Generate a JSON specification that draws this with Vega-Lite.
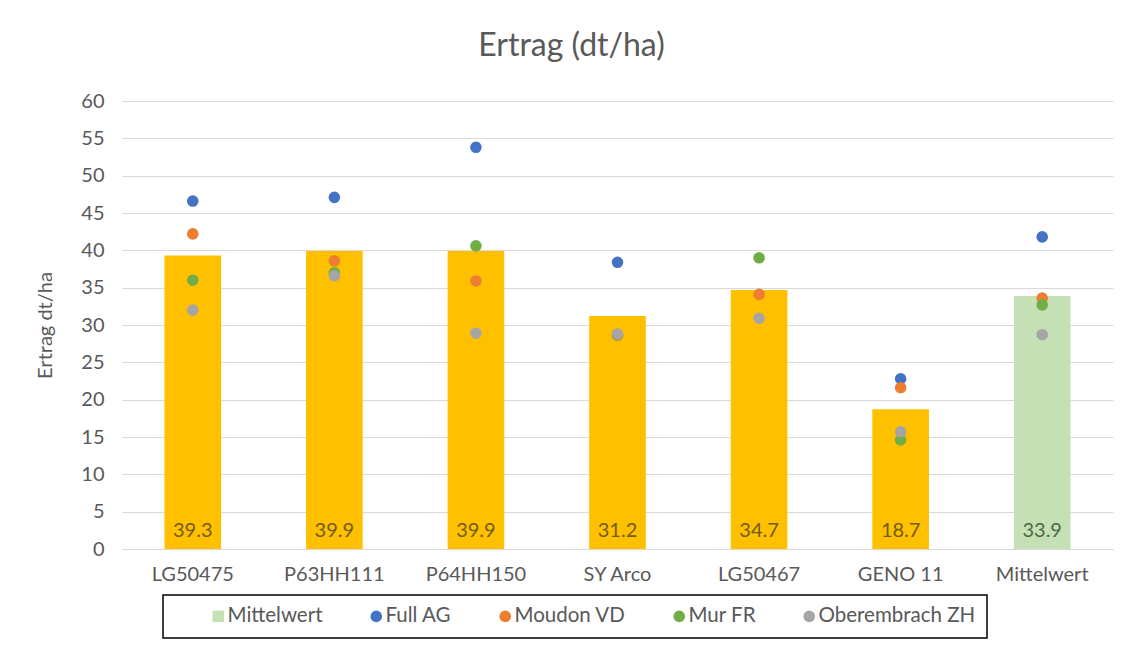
{
  "$schema": "https://vega.github.io/schema/vega-lite/v6.json",
  "autosize": "none",
  "width": 991,
  "height": 448,
  "padding": {"left": 122, "top": 101, "right": 21, "bottom": 113},
  "background": "white",
  "config": {
    "font": "Lato",
    "view": {"stroke": null},
    "axis": {"labelColor": "#595959", "titleColor": "#595959", "labelFont": "Lato", "titleFont": "Lato"},
    "axisY": {"labelOverlap": false},
    "legend": {"strokeWidth": 1.5}
  },
  "title": {
    "text": "Ertrag (dt/ha)",
    "fontSize": 32,
    "font": "Lato",
    "fontWeight": "normal",
    "color": "#595959",
    "anchor": "middle",
    "dx": -46,
    "offset": 28
  },
  "datasets": {
    "bars": [
      {"sorte": "LG50475", "ertrag": 39.3},
      {"sorte": "P63HH111", "ertrag": 39.9},
      {"sorte": "P64HH150", "ertrag": 39.9},
      {"sorte": "SY Arco", "ertrag": 31.2},
      {"sorte": "LG50467", "ertrag": 34.7},
      {"sorte": "GENO 11", "ertrag": 18.7},
      {"sorte": "Mittelwert", "ertrag": 33.9}
    ],
    "points": [
      {"sorte": "LG50475", "standort": "Full AG", "wert": 46.6},
      {"sorte": "P63HH111", "standort": "Full AG", "wert": 47.1},
      {"sorte": "P64HH150", "standort": "Full AG", "wert": 53.8},
      {"sorte": "SY Arco", "standort": "Full AG", "wert": 38.4},
      {"sorte": "GENO 11", "standort": "Full AG", "wert": 22.8},
      {"sorte": "Mittelwert", "standort": "Full AG", "wert": 41.8},
      {"sorte": "LG50475", "standort": "Moudon VD", "wert": 42.2},
      {"sorte": "P63HH111", "standort": "Moudon VD", "wert": 38.6},
      {"sorte": "P64HH150", "standort": "Moudon VD", "wert": 35.9},
      {"sorte": "SY Arco", "standort": "Moudon VD", "wert": 28.6},
      {"sorte": "LG50467", "standort": "Moudon VD", "wert": 34.1},
      {"sorte": "GENO 11", "standort": "Moudon VD", "wert": 21.6},
      {"sorte": "Mittelwert", "standort": "Moudon VD", "wert": 33.6},
      {"sorte": "LG50475", "standort": "Mur FR", "wert": 36.0},
      {"sorte": "P63HH111", "standort": "Mur FR", "wert": 37.0},
      {"sorte": "P64HH150", "standort": "Mur FR", "wert": 40.6},
      {"sorte": "SY Arco", "standort": "Mur FR", "wert": 28.7},
      {"sorte": "LG50467", "standort": "Mur FR", "wert": 39.0},
      {"sorte": "GENO 11", "standort": "Mur FR", "wert": 14.6},
      {"sorte": "Mittelwert", "standort": "Mur FR", "wert": 32.7},
      {"sorte": "LG50475", "standort": "Oberembrach ZH", "wert": 32.0},
      {"sorte": "P63HH111", "standort": "Oberembrach ZH", "wert": 36.6},
      {"sorte": "P64HH150", "standort": "Oberembrach ZH", "wert": 28.9},
      {"sorte": "SY Arco", "standort": "Oberembrach ZH", "wert": 28.8},
      {"sorte": "LG50467", "standort": "Oberembrach ZH", "wert": 30.9},
      {"sorte": "GENO 11", "standort": "Oberembrach ZH", "wert": 15.7},
      {"sorte": "Mittelwert", "standort": "Oberembrach ZH", "wert": 28.7}
    ]
  },
  "encoding": {
    "x": {
      "field": "sorte",
      "type": "nominal",
      "sort": ["LG50475", "P63HH111", "P64HH150", "SY Arco", "LG50467", "GENO 11", "Mittelwert"],
      "scale": {"paddingInner": 0.6, "paddingOuter": 0.3},
      "axis": {
        "title": null,
        "labelAngle": 0,
        "labelFontSize": 20,
        "labelPadding": 15,
        "ticks": false,
        "domainColor": "#D9D9D9",
        "domainWidth": 1
      }
    }
  },
  "layer": [
    {
      "data": {"name": "bars"},
      "mark": {"type": "bar"},
      "encoding": {
        "y": {
          "field": "ertrag",
          "type": "quantitative",
          "scale": {"domain": [0, 60], "nice": false},
          "axis": {
            "title": "Ertrag dt/ha",
            "titleFontSize": 20,
            "titleFontWeight": "normal",
            "titlePadding": 25,
            "labelFontSize": 20,
            "labelPadding": 18,
            "values": [0, 5, 10, 15, 20, 25, 30, 35, 40, 45, 50, 55, 60],
            "ticks": false,
            "domain": false,
            "gridColor": "#D9D9D9",
            "gridWidth": 1
          }
        },
        "color": {
          "condition": {"test": "datum.sorte === 'Mittelwert'", "value": "#C5E0B4"},
          "value": "#FFC000"
        }
      }
    },
    {
      "data": {"name": "bars"},
      "mark": {"type": "text", "fontSize": 20, "baseline": "middle", "dy": -18, "font": "Lato"},
      "encoding": {
        "y": {
          "datum": 0,
          "type": "quantitative",
          "axis": {
            "title": "Ertrag dt/ha",
            "titleFontSize": 20,
            "titleFontWeight": "normal",
            "titlePadding": 25,
            "labelFontSize": 20,
            "labelPadding": 18,
            "values": [0, 5, 10, 15, 20, 25, 30, 35, 40, 45, 50, 55, 60],
            "ticks": false,
            "domain": false,
            "gridColor": "#D9D9D9",
            "gridWidth": 1
          }
        },
        "text": {"field": "ertrag", "type": "quantitative", "format": ".1f"},
        "color": {
          "condition": {"test": "datum.sorte === 'Mittelwert'", "value": "#4D6B45"},
          "value": "#735C14"
        }
      }
    },
    {
      "data": {"name": "points"},
      "mark": {"type": "point", "filled": true, "opacity": 1, "size": 135},
      "encoding": {
        "y": {
          "field": "wert",
          "type": "quantitative",
          "axis": {
            "title": "Ertrag dt/ha",
            "titleFontSize": 20,
            "titleFontWeight": "normal",
            "titlePadding": 25,
            "labelFontSize": 20,
            "labelPadding": 18,
            "values": [0, 5, 10, 15, 20, 25, 30, 35, 40, 45, 50, 55, 60],
            "ticks": false,
            "domain": false,
            "gridColor": "#D9D9D9",
            "gridWidth": 1
          }
        },
        "color": {
          "field": "standort",
          "type": "nominal",
          "scale": {
            "domain": ["Mittelwert", "Full AG", "Moudon VD", "Mur FR", "Oberembrach ZH"],
            "range": ["#C5E0B4", "#4472C4", "#ED7D31", "#70AD47", "#A5A5A5"]
          },
          "legend": {
            "title": " ",
            "titleOrient": "left",
            "titlePadding": 34,
            "titleFontSize": 20,
            "orient": "none",
            "legendX": 41,
            "legendY": 494,
            "direction": "horizontal",
            "columns": 5,
            "columnPadding": 43,
            "padding": 11,
            "strokeColor": "#000000",
            "labelFontSize": 20.5,
            "labelColor": "#595959",
            "labelFont": "Lato",
            "labelOffset": -1,
            "labelExpr": "datum.value === 'Oberembrach ZH' ? 'Oberembrach ZH\u2007\u2007\u2007' : datum.label",
            "symbolSize": 135,
            "symbolOpacity": 1,
            "labelLimit": 400
          }
        },
        "shape": {
          "field": "standort",
          "type": "nominal",
          "scale": {
            "domain": ["Mittelwert", "Full AG", "Moudon VD", "Mur FR", "Oberembrach ZH"],
            "range": ["square", "circle", "circle", "circle", "circle"]
          },
          "legend": {
            "title": " ",
            "titleOrient": "left",
            "titlePadding": 34,
            "titleFontSize": 20,
            "orient": "none",
            "legendX": 41,
            "legendY": 494,
            "direction": "horizontal",
            "columns": 5,
            "columnPadding": 43,
            "padding": 11,
            "strokeColor": "#000000",
            "labelFontSize": 20.5,
            "labelColor": "#595959",
            "labelFont": "Lato",
            "labelOffset": -1,
            "labelExpr": "datum.value === 'Oberembrach ZH' ? 'Oberembrach ZH\u2007\u2007\u2007' : datum.label",
            "symbolSize": 135,
            "symbolOpacity": 1,
            "labelLimit": 400
          }
        }
      }
    }
  ]
}
